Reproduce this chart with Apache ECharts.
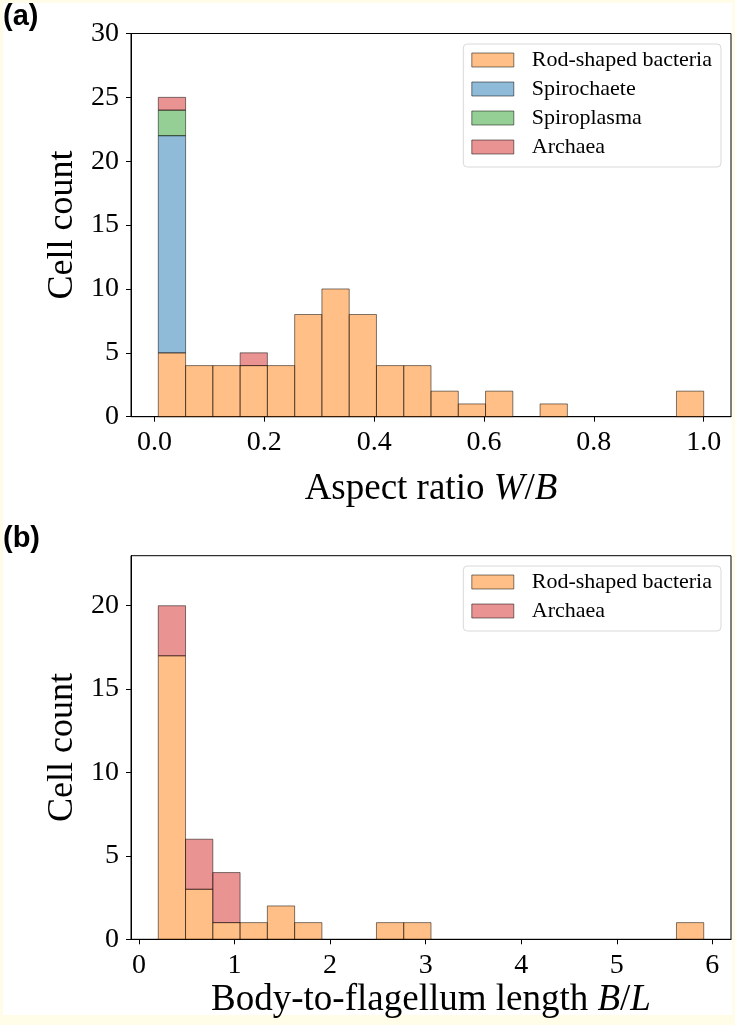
<!DOCTYPE html>
<html>
<head>
<meta charset="utf-8">
<script src="https://cdn.jsdelivr.net/npm/echarts@6/dist/echarts.min.js"></script>
<style>
  html, body { margin: 0; padding: 0; background: #fffde8; }
  #paper { position: absolute; left: 3px; top: 3px; width: 729px; height: 1012px; background: #ffffff; }
  #chart { position: absolute; left: 0; top: 0; width: 735px; height: 1025px; }
</style>
</head>
<body>
<div id="paper"></div>
<div id="chart"></div>
<script>
// ---------- data ----------
const categoriesA = ['Rod-shaped bacteria', 'Spirochaete', 'Spiroplasma', 'Archaea'];
const binEdgesA = [0.007, 0.0567, 0.1063, 0.156, 0.2056, 0.2553, 0.3049, 0.3546, 0.4042, 0.4539,
                   0.5035, 0.5532, 0.6028, 0.6525, 0.7021, 0.7518, 0.8014, 0.8511, 0.9007, 0.9504, 1.0];
const rodA          = [5, 4, 4, 4, 4, 8, 10, 8, 4, 4, 2, 1, 2, 0, 1, 0, 0, 0, 0, 2];
const spirochaeteA  = [17, 0, 0, 0, 0, 0, 0, 0, 0, 0, 0, 0, 0, 0, 0, 0, 0, 0, 0, 0];
const spiroplasmaA  = [2, 0, 0, 0, 0, 0, 0, 0, 0, 0, 0, 0, 0, 0, 0, 0, 0, 0, 0, 0];
const archaeaA      = [1, 0, 0, 1, 0, 0, 0, 0, 0, 0, 0, 0, 0, 0, 0, 0, 0, 0, 0, 0];

const categoriesB = ['Rod-shaped bacteria', 'Archaea'];
const binEdgesB = [0.202, 0.4874, 0.7728, 1.0582, 1.3436, 1.629, 1.9144, 2.1998, 2.4852, 2.7706,
                   3.056, 3.3414, 3.6268, 3.9122, 4.1976, 4.483, 4.7684, 5.0538, 5.3392, 5.6246, 5.91];
const rodB     = [17, 3, 1, 1, 2, 1, 0, 0, 1, 1, 0, 0, 0, 0, 0, 0, 0, 0, 0, 1];
const archaeaB = [3, 3, 3, 0, 0, 0, 0, 0, 0, 0, 0, 0, 0, 0, 0, 0, 0, 0, 0, 0];

const xTicksA = [0, 0.2, 0.4, 0.6, 0.8, 1.0];
const yTicksA = [0, 5, 10, 15, 20, 25, 30];
const xTicksB = [0, 1, 2, 3, 4, 5, 6];
const yTicksB = [0, 5, 10, 15, 20];

// ---------- styles ----------
const fills = {
  'Rod-shaped bacteria': 'rgba(255,127,14,0.5)',
  'Spirochaete': 'rgba(31,119,180,0.5)',
  'Spiroplasma': 'rgba(44,160,44,0.5)',
  'Archaea': 'rgba(214,39,40,0.5)'
};
const edgeColor = 'rgba(0,0,0,0.5)';
const serif = 'Liberation Serif';

function renderBar(params, api) {
  const p0 = api.coord([api.value(0), api.value(2)]);
  const p1 = api.coord([api.value(1), api.value(3)]);
  return {
    type: 'rect',
    shape: { x: p0[0], y: p1[1], width: p1[0] - p0[0], height: p0[1] - p1[1] },
    style: { fill: fills[params.seriesName], stroke: edgeColor, lineWidth: 1 }
  };
}

function stackedSeries(edges, names, layers, axisIdx) {
  const base = new Array(edges.length - 1).fill(0);
  return layers.map((counts, k) => {
    const data = [];
    counts.forEach((c, i) => {
      if (c > 0) data.push([edges[i], edges[i + 1], base[i], base[i] + c]);
      base[i] += c;
    });
    return {
      type: 'custom',
      name: names[k],
      xAxisIndex: axisIdx,
      yAxisIndex: axisIdx,
      renderItem: renderBar,
      encode: { x: [0, 1], y: [2, 3] },
      itemStyle: { color: fills[names[k]], borderColor: edgeColor, borderWidth: 1 },
      data: data,
      silent: true
    };
  });
}

const legendText = {
  fontFamily: serif, fontSize: 22, lineHeight: 22, color: '#000',
  rich: {
    g: { width: 13, fontFamily: serif, fontSize: 22, lineHeight: 22 },
    t: { fontFamily: serif, fontSize: 22, lineHeight: 22, color: '#000' }
  }
};

function legendFor(names, top) {
  return {
    orient: 'vertical',
    right: 14,
    top: top,
    itemWidth: 42,
    itemHeight: 14,
    itemGap: 7,
    icon: 'rect',
    padding: [5, 9, 9, 8],
    backgroundColor: '#ffffff',
    borderColor: '#d9d9d9',
    borderWidth: 1,
    borderRadius: 4,
    selectedMode: false,
    formatter: n => '{g|}{t|' + n + '}',
    textStyle: legendText,
    data: names.map(n => ({
      name: n,
      itemStyle: { color: fills[n], borderColor: edgeColor, borderWidth: 1 }
    }))
  };
}

function xAxisFor(idx, min, max, ticks, fmt, name, gap) {
  return {
    type: 'value', gridIndex: idx, min: min, max: max,
    axisLine: { show: true, onZero: false, lineStyle: { color: '#000', width: 1 } },
    axisTick: { show: true, length: 5, customValues: ticks, lineStyle: { color: '#000' } },
    axisLabel: { customValues: ticks, formatter: fmt, fontFamily: serif, fontSize: 28, color: '#000', margin: 12 },
    splitLine: { show: false },
    name: name, nameLocation: 'middle', nameGap: gap,
    nameTextStyle: {
      fontFamily: serif, fontSize: 37, color: '#000',
      rich: { i: { fontFamily: serif, fontSize: 37, fontStyle: 'italic', color: '#000' } }
    }
  };
}

function yAxisFor(idx, max, ticks) {
  return {
    type: 'value', gridIndex: idx, min: 0, max: max,
    axisLine: { show: true, onZero: false, lineStyle: { color: '#000', width: 1 } },
    axisTick: { show: true, length: 5, customValues: ticks, lineStyle: { color: '#000' } },
    axisLabel: { customValues: ticks, fontFamily: serif, fontSize: 28, color: '#000', margin: 12 },
    splitLine: { show: false },
    name: 'Cell count', nameLocation: 'middle', nameGap: 42, nameRotate: 90,
    nameTextStyle: { fontFamily: serif, fontSize: 36, color: '#000' }
  };
}

const chart = echarts.init(document.getElementById('chart'), null, { renderer: 'canvas' });
chart.setOption({
  animation: false,
  backgroundColor: 'transparent',
  grid: [
    { left: 131, top: 33.5, width: 600, height: 383.2, show: true, borderColor: '#000', borderWidth: 1, backgroundColor: 'transparent' },
    { left: 131, top: 555.7, width: 600, height: 383.6, show: true, borderColor: '#000', borderWidth: 1, backgroundColor: 'transparent' }
  ],
  xAxis: [
    xAxisFor(0, -0.0427, 1.0497, xTicksA, v => v.toFixed(1), 'Aspect ratio {i|W}/{i|B}', 54),
    xAxisFor(1, -0.0834, 6.1954, xTicksB, v => String(v), 'Body-to-flagellum length {i|B}/{i|L}', 42)
  ],
  yAxis: [
    yAxisFor(0, 30, yTicksA),
    yAxisFor(1, 23, yTicksB)
  ],
  legend: [
    legendFor(categoriesA, 44),
    legendFor(categoriesB, 566)
  ],
  graphic: [
    { type: 'text', left: 3, top: 2, style: { text: '(a)', font: 'bold 29px "Liberation Sans", Arial, sans-serif', fill: '#000' } },
    { type: 'text', left: 3, top: 524, style: { text: '(b)', font: 'bold 29px "Liberation Sans", Arial, sans-serif', fill: '#000' } }
  ],
  series: [
    ...stackedSeries(binEdgesA, categoriesA, [rodA, spirochaeteA, spiroplasmaA, archaeaA], 0),
    ...stackedSeries(binEdgesB, categoriesB, [rodB, archaeaB], 1)
  ]
});
</script>
</body>
</html>
